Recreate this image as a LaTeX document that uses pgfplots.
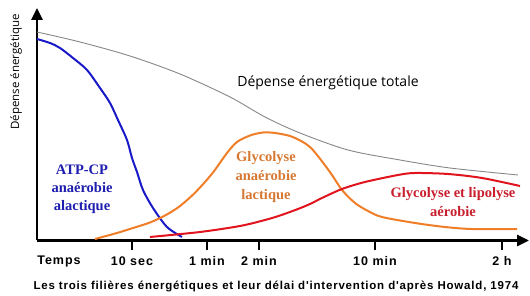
\documentclass[border=0pt]{standalone}
\usepackage{pgfplots}
\pgfplotsset{compat=1.18}
\usetikzlibrary{arrows.meta}
\usepackage{fontspec}
\setmainfont{Liberation Sans}
\newfontfamily\serifb{Liberation Serif}
\newfontfamily\humsans{Open Sans}
\newfontfamily\spaced[LetterSpace=8]{Liberation Sans}
\newfontfamily\spacedc[LetterSpace=7]{Liberation Sans}
\definecolor{cblue}{RGB}{25,25,200}
\definecolor{corange}{RGB}{240,125,40}
\definecolor{cred}{RGB}{225,20,30}
\definecolor{cgray}{RGB}{135,135,135}
\definecolor{tblue}{RGB}{30,30,175}
\definecolor{torange}{RGB}{215,120,50}
\definecolor{tred}{RGB}{200,30,45}
\begin{document}
\begin{tikzpicture}
\begin{axis}[
  x=1pt, y=1pt,
  xmin=37, xmax=529, ymin=0, ymax=232.5,
  axis lines=left,
  axis line style={line width=2.8pt, -{Triangle[length=12pt,width=11pt]}},
  clip=false,
  xtick={132,207,259,375,502},
  xticklabels={10 sec,1 min,2 min,10 min,2 h},
  ytick=\empty,
  tick align=outside,
  major tick length=10pt,
  tick style={line width=1.5pt, black},
  xticklabel style={font=\spaced\bfseries\fontsize{12.5}{14}\selectfont, inner sep=2pt, yshift=-4pt},
]
\addplot[cgray, line width=0.9pt, smooth, tension=0.5] coordinates {
 (37,208.5) (80,198.5) (130,184.5) (180,166.5) (230,143.5) (265,123.5)
 (300,107.5) (348,90.5) (400,80.5) (450,72.5) (518,65.5)};
\addplot[cblue, line width=2pt, smooth, tension=0.5] coordinates {
 (37,201.5) (50,197.5) (60,192.5) (73,182.5) (87,170.5) (100,152.5) (110,137.5)
 (118,120.5) (127,100.5) (132,82.5) (137,68.5) (143,50.5) (153,32.5) (167,13.5) (182,3.5)};
\addplot[corange, line width=2pt, smooth, tension=0.5] coordinates {
 (95,1.5) (117,7.5) (133,12.5) (150,18) (165,25) (178,33) (190,43) (200,53) (213,68)
 (227,87.5) (237,98.5) (250,105) (263,108) (275,107.5) (290,104.5) (302,99)
 (311,92.5) (321,80.5) (332,65.5) (342,50.5) (355,37.5) (368,29.5) (382,23.5)
 (415,17.5) (445,13.5) (472,11.5) (517,11.5)};
\addplot[cred, line width=2pt, smooth, tension=0.5] coordinates {
 (150,3.5) (200,8.5) (240,14.5) (265,20.5) (280,25) (298,31.5) (310,36.5) (322,42.5)
 (342,51.5) (365,58.5) (398,65.5) (415,67.5) (448,66.5) (482,62.5) (520,54.5)};
\node[font=\humsans\fontsize{14}{16}\selectfont] at (axis cs:328,157.5) {Dépense énergétique totale};
\node[font=\humsans\fontsize{11.5}{13}\selectfont, rotate=90] at (axis cs:16,168.5) {Dépense énergétique};
\node[font=\spaced\bfseries\fontsize{12.5}{14}\selectfont] at (axis cs:59,-21) {Temps};
\node[font=\spacedc\bfseries\fontsize{11.5}{13}\selectfont] at (axis cs:276,-46.5) {Les trois filières énergétiques et leur délai d'intervention d'après Howald, 1974};
\node[font=\serifb\bfseries\fontsize{14.5}{18}\selectfont, text=tblue, align=center] at (axis cs:82,51.5) {ATP-CP\\anaérobie\\alactique};
\node[font=\serifb\bfseries\fontsize{14.5}{19}\selectfont, text=torange, align=center] at (axis cs:266,63.5) {Glycolyse\\anaérobie\\lactique};
\node[font=\serifb\bfseries\fontsize{14.5}{19}\selectfont, text=tred, align=center] at (axis cs:453,38) {Glycolyse et lipolyse\\aérobie};
\coordinate (bl) at (axis cs:0,-55.5);
\coordinate (tr) at (axis cs:530,240.5);
\end{axis}
\pgfresetboundingbox
\path (bl) rectangle (tr);
\end{tikzpicture}
\end{document}
